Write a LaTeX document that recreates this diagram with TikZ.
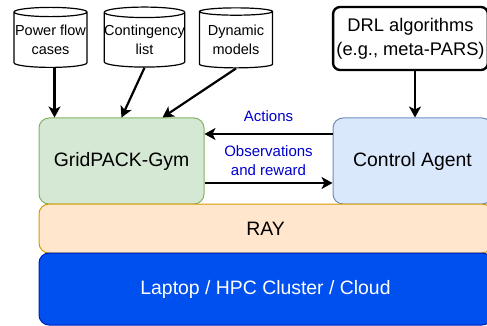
\documentclass[tikz,border=0pt]{standalone}
\usepackage{fontspec}
\setmainfont{Liberation Sans}
\usetikzlibrary{shapes.geometric,arrows.meta}
\definecolor{gymfill}{HTML}{D5E8D4}
\definecolor{gymline}{HTML}{82B366}
\definecolor{agentfill}{HTML}{DAE8FC}
\definecolor{agentline}{HTML}{6C8EBF}
\definecolor{rayfill}{HTML}{FFE6CC}
\definecolor{rayline}{HTML}{D79B00}
\definecolor{hwfill}{HTML}{0050EF}
\definecolor{hwline}{HTML}{001DBC}
\definecolor{labelblue}{HTML}{0000CC}
\begin{document}
\begin{tikzpicture}[x=1pt, y=-1pt,
                    store/.style={cylinder, shape border rotate=90, aspect=0.13, draw, line width=1.2pt,
                                  minimum width=73pt, minimum height=60pt, inner sep=0pt, align=center,
                                  font=\fontsize{14.5}{18.5}\selectfont},
                    block/.style={draw, rounded corners=10pt, line width=1pt, font=\fontsize{19.4}{23}\selectfont},
                    flow/.style={-{Stealth[length=11pt,width=12pt,inset=3pt]}, line width=2.2pt},
                    note/.style={text=labelblue, align=center, font=\fontsize{15}{19}\selectfont}]
\useasboundingbox (0,0) rectangle (487,326);
\clip (0,0) rectangle (487,326);
% data sources
\node[store] (cases) at (50.5,40) {Power flow\\cases};
\node[store] (cont)  at (144.5,40) {Contingency\\list};
\node[store] (dyn)   at (236,40) {Dynamic\\models};
\node[draw, rounded corners=7pt, line width=2.4pt, minimum width=151pt, minimum height=63pt,
      align=center, font=\fontsize{18.3}{24}\selectfont] (drl) at (410.5,38.5) {DRL algorithms\\(e.g., meta-PARS)};
% main blocks
\node[block, fill=gymfill, draw=gymline, minimum width=165pt, minimum height=86pt] (gym) at (121.5,161) {GridPACK-Gym};
\node[block, fill=agentfill, draw=agentline, minimum width=159pt, minimum height=86pt] (agent) at (412.5,161) {Control Agent};
\node[block, fill=rayfill, draw=rayline, minimum width=453pt, minimum height=49pt] (ray) at (265.5,228.5) {RAY};
\node[block, fill=hwfill, draw=hwline, text=white, minimum width=453pt, minimum height=72pt] (hw) at (265.5,289) {Laptop / HPC Cluster / Cloud};
% connectors
\draw[flow] ([xshift=4pt]cases.south) -- ([xshift=4pt]cases.south |- gym.north);
\draw[flow] (cont.south) -- (gym.north);
\draw[flow] (dyn.south) -- ([xshift=41pt]gym.north);
\draw[flow] ([xshift=4.5pt]drl.south) -- ([xshift=4.5pt]drl.south |- agent.north);
\draw[flow] ([yshift=27pt]agent.west) -- ([yshift=27pt]gym.east)
    node[note, midway, above=8pt] (act) {Actions};
\draw[flow] ([yshift=-22pt]gym.east) -- ([yshift=-22pt]agent.west)
    node[note, midway, above=3pt] (obs) {Observations\\and reward};
\end{tikzpicture}
\end{document}
